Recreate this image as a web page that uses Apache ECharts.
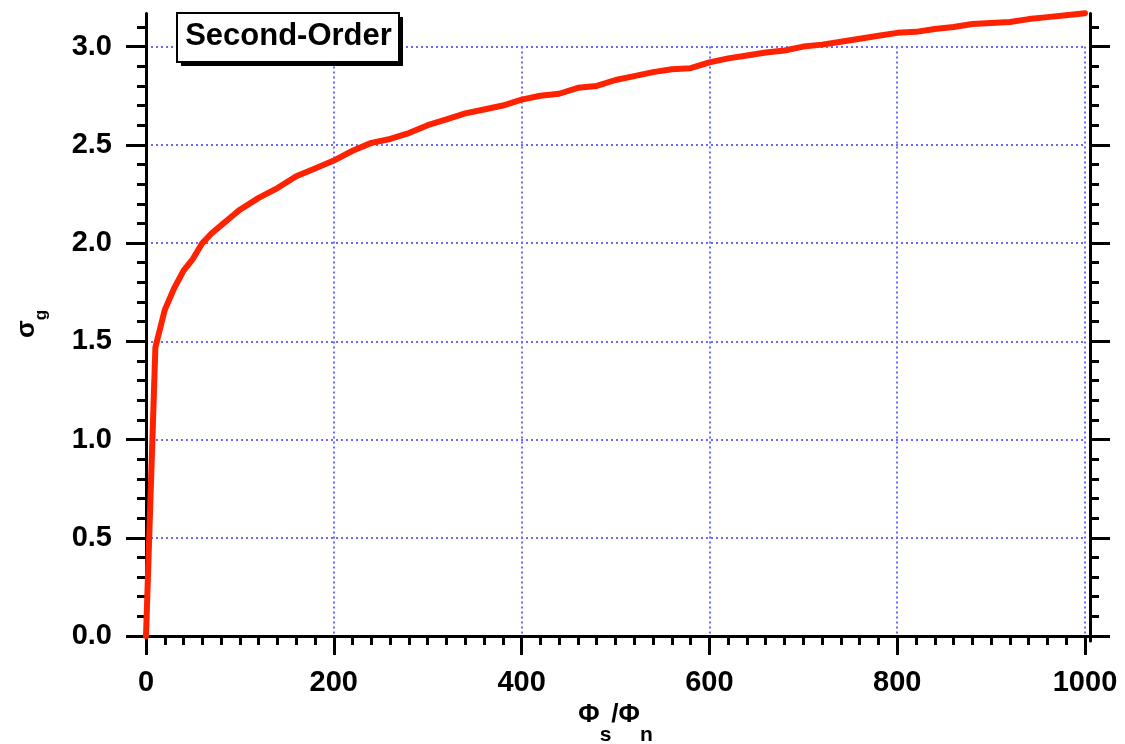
<!DOCTYPE html>
<html>
<head>
<meta charset="utf-8">
<script src="https://cdn.jsdelivr.net/npm/echarts@6/dist/echarts.min.js"></script>
<style>
html,body{margin:0;padding:0;background:#fff;}
#chart{width:1125px;height:744px;}
</style>
</head>
<body>
<div id="chart"></div>
<script>
// Data
const xValues = [0,10,20,30,40,50,60,70,80,90,100,120,140,160,180,200,220,240,260,280,300,320,340,360,380,400,420,440,460,480,500,520,540,560,580,600,620,640,660,680,700,720,740,760,780,800,820,840,860,880,900,920,940,960,980,1000];
const yValues = [0,1.47,1.66,1.77,1.86,1.92,2.00,2.05,2.09,2.13,2.17,2.23,2.28,2.34,2.38,2.42,2.47,2.51,2.53,2.56,2.60,2.63,2.66,2.68,2.70,2.73,2.75,2.76,2.79,2.80,2.83,2.85,2.87,2.885,2.89,2.92,2.94,2.955,2.97,2.98,3.00,3.01,3.025,3.04,3.055,3.07,3.075,3.09,3.10,3.115,3.12,3.125,3.14,3.15,3.16,3.17];
const seriesName = 'Second-Order';
const xTitleParts = ['Φ','s','/Φ','n'];
const yTitleParts = ['σ','g'];

const FONT = '"Liberation Sans", Arial, Helvetica, sans-serif';
const chart = echarts.init(document.getElementById('chart'), null, {renderer:'canvas'});
const black = '#000';
const gridLine = {show:true, lineStyle:{type:[2,3], color:'#6a6aff', width:2}};
const majorTick = (len) => ({show:true, inside:false, length:len, lineStyle:{color:black, width:3}});
const labelStyle = {fontSize:29, fontWeight:'bold', color:black, fontFamily:FONT};

const option = {
  animation:false,
  backgroundColor:'#fff',
  graphic:[
    {type:'rect', z:100, shape:{x:181, y:17, width:222, height:49}, style:{fill:'#000'}},
    {type:'rect', z:101, shape:{x:177, y:13, width:222, height:49}, style:{fill:'#fff', stroke:'#000', lineWidth:2}},
    {type:'text', z:102, x:288.5, y:36,
      style:{text:seriesName, fill:black, font:'bold 31px ' + FONT, align:'center', verticalAlign:'middle'}},
    {
      type:'text', z:102,
      x:32, y:324,
      rotation:Math.PI/2,
      style:{
        text:'{a|' + yTitleParts[0] + '}{b|' + yTitleParts[1] + '}',
        align:'center', verticalAlign:'middle',
        rich:{
          a:{fontSize:26, fontWeight:'bold', fill:black, lineHeight:36, verticalAlign:'top', fontFamily:FONT},
          b:{fontSize:17, fontWeight:'bold', fill:black, lineHeight:36, verticalAlign:'bottom', fontFamily:FONT}
        }
      }
    }
  ],
  grid:[
    {left:146, top:46.6, width:939, height:589.4, containLabel:false, outerBoundsMode:'none'},
    {left:137.5, top:13.5, right:35, bottom:103, containLabel:false, outerBoundsMode:'none'},
    {left:146, top:26.95, width:939, height:609.05, containLabel:false, outerBoundsMode:'none'}
  ],
  xAxis:[
    {
      gridIndex:0, type:'value', min:0, max:1000, interval:200,
      position:'bottom', offset:5,
      axisLine:{show:false},
      axisTick:majorTick(19),
      minorTick:{show:true, splitNumber:10, length:9, lineStyle:{color:black, width:3}},
      axisLabel:Object.assign({margin:27, formatter:(v)=>String(v)}, labelStyle),
      splitLine:gridLine,
      name:'{m|' + xTitleParts[0] + '}{s|' + xTitleParts[1] + '}{m|' + xTitleParts[2] + '}{s|' + xTitleParts[3] + '}',
      nameLocation:'middle', nameGap:57,
      nameTextStyle:{
        rich:{
          m:{fontSize:26, fontWeight:'bold', color:black, lineHeight:44, verticalAlign:'top', fontFamily:FONT},
          s:{fontSize:21, fontWeight:'bold', color:black, lineHeight:44, verticalAlign:'bottom', fontFamily:FONT}
        }
      }
    },
    {
      gridIndex:1, type:'value', min:-9.05, max:1005.3, position:'bottom',
      axisLine:{show:true, lineStyle:{color:black, width:3}},
      axisTick:{show:false}, axisLabel:{show:false}, splitLine:{show:false}
    },
    {gridIndex:2, type:'value', min:0, max:1000, show:false}
  ],
  yAxis:[
    {
      gridIndex:0, type:'value', min:0, max:3, interval:0.5,
      position:'left', offset:8,
      axisLine:{show:false},
      axisTick:majorTick(20),
      axisLabel:Object.assign({margin:26, formatter:(v)=>v.toFixed(1)}, labelStyle),
      splitLine:gridLine
    },
    {
      gridIndex:0, type:'value', min:0, max:3, interval:0.5,
      position:'right', offset:5,
      axisLine:{show:false},
      axisTick:majorTick(20),
      axisLabel:{show:false}, splitLine:{show:false}
    },
    {
      gridIndex:1, type:'value', min:-0.0255, max:3.17, position:'left',
      axisLine:{show:true, lineStyle:{color:black, width:3}},
      axisTick:{show:false}, axisLabel:{show:false}, splitLine:{show:false}
    },
    {
      gridIndex:1, type:'value', min:-0.0255, max:3.17, position:'right',
      axisLine:{show:true, lineStyle:{color:black, width:3}},
      axisTick:{show:false}, axisLabel:{show:false}, splitLine:{show:false}
    },
    {
      gridIndex:2, type:'value', min:0, max:3.1, interval:0.1,
      position:'left', offset:8,
      axisLine:{show:false},
      axisTick:majorTick(9),
      axisLabel:{show:false}, splitLine:{show:false}
    },
    {
      gridIndex:2, type:'value', min:0, max:3.1, interval:0.1,
      position:'right', offset:5,
      axisLine:{show:false},
      axisTick:majorTick(9),
      axisLabel:{show:false}, splitLine:{show:false}
    }
  ],
  series:[{
    name:seriesName,
    type:'line',
    xAxisIndex:0, yAxisIndex:0,
    data:xValues.map((x,i)=>[x, yValues[i]]),
    showSymbol:false, symbol:'none',
    clip:false,
    z:10,
    lineStyle:{color:'#ff2200', width:6, join:'round', cap:'round'}
  }]
};
chart.setOption(option);
</script>
</body>
</html>
